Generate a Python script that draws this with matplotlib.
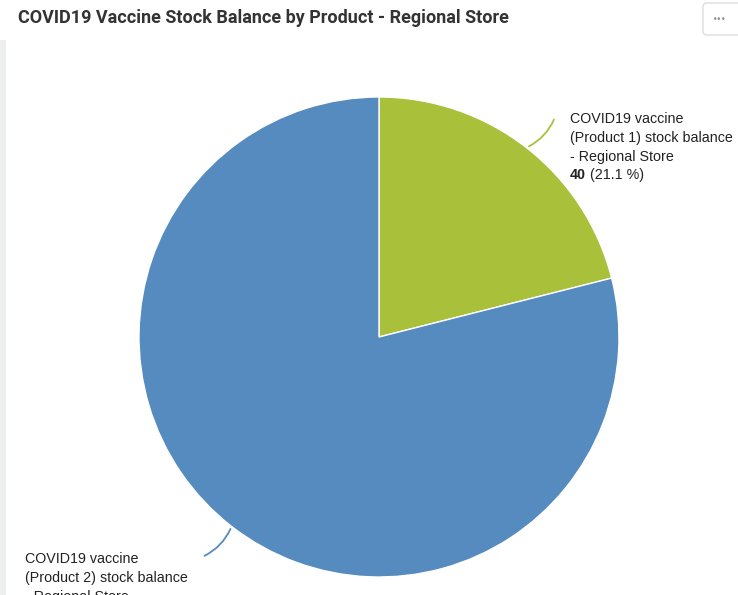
import numpy as np
import matplotlib.pyplot as plt
from matplotlib.patches import FancyBboxPatch, Rectangle

# data
products = ['COVID19 vaccine\n(Product 1) stock balance\n- Regional Store',
            'COVID19 vaccine\n(Product 2) stock balance\n- Regional Store']
values = [40, 150]
colors = ['#a9c03b', '#558bbf']
title = 'COVID19 Vaccine Stock Balance by Product - Regional Store'

W, H = 738, 595
fig = plt.figure(figsize=(W / 100, H / 100), dpi=100)
ax = fig.add_axes([0, 0, 1, 1])

# pie (pixel coords, y flipped)
cx, cy, r = 379, H - 337, 240
wedges, _ = ax.pie(values, colors=colors, startangle=90, counterclock=False,
                   center=(cx, cy), radius=r, frame=True,
                   wedgeprops=dict(edgecolor='white', linewidth=1))
ax.set_xlim(0, W)
ax.set_ylim(0, H)
ax.set_aspect('equal')
ax.axis('off')

# labels with curved connectors
fs = 10.3
step = 18.8
total = sum(values)
label_pos = [(570, H - 112, 555, H - 117, -0.2), (25, H - 552, 202, H - 557, 0.2)]
for w, v, lab, (tx, ty, ex, ey, rad) in zip(wedges, values, products, label_pos):
    mid = np.deg2rad((w.theta1 + w.theta2) / 2)
    px, py = cx + r * np.cos(mid), cy + r * np.sin(mid)
    ax.annotate('', xy=(px, py), xytext=(ex, ey),
                arrowprops=dict(arrowstyle='-', color=w.get_facecolor(), lw=1.3,
                                connectionstyle=f'arc3,rad={rad}'))
    for i, line in enumerate(lab.split('\n')):
        ax.text(tx, ty - i * step, line, fontsize=fs, family='Liberation Sans',
                color='#222222', va='top', ha='left')
    t = ax.text(tx, ty - 3 * step, str(v), fontsize=fs, family='Liberation Sans',
                color='#222222', va='top', ha='left', fontweight='bold')
    ax.annotate(f' ({v / total * 100:.1f} %)', xy=(1, 0), xycoords=t,
                fontsize=fs, family='Liberation Sans', color='#222222',
                va='bottom', ha='left')

# title
ax.text(18, H - 18, title, fontsize=13, family='Roboto', fontweight='bold',
        color='#333333', va='center', ha='left')

# left border strip
ax.add_patch(Rectangle((0, 0), 6, H - 40, facecolor='#eceef0', edgecolor='none'))

# menu button
ax.add_patch(FancyBboxPatch((703, H - 35), 40, 32, boxstyle='round,pad=0,rounding_size=4',
                            facecolor='white', edgecolor='#dcdde0', lw=1, clip_on=False))
ax.text(720, H - 19, '•••', fontsize=5.5, color='#888888', ha='center', va='center')

fig.savefig('out.png', dpi=100)
